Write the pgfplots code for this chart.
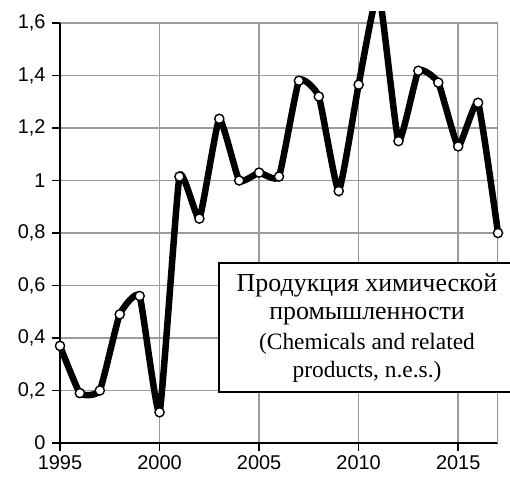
\documentclass[border=0pt]{standalone}
\usepackage{pgfplots}
\pgfplotsset{compat=1.18}
\usepackage{fontspec}
\setmainfont{Liberation Sans}
\newfontfamily\seriffont{Liberation Serif}
\definecolor{gridgray}{RGB}{155,155,155}
\pgfplotstableread{
year val
1995 0.37
1996 0.19
1997 0.20
1998 0.49
1999 0.56
2000 0.117
2001 1.015
2002 0.855
2003 1.235
2004 1.0
2005 1.03
2006 1.015
2007 1.38
2008 1.32
2009 0.96
2010 1.365
2011 1.72
2012 1.15
2013 1.418
2014 1.373
2015 1.13
2016 1.296
2017 0.80
}\chemdata
\begin{document}
\begin{tikzpicture}
\begin{axis}[
  at={(0,0)}, anchor=south west,
  scale only axis, width=438bp, height=420bp,
  xmin=1995, xmax=2017, ymin=0, ymax=1.6,
  xtick={1995,2000,2005,2010,2015},
  ytick={0,0.2,0.4,0.6,0.8,1,1.2,1.4,1.6},
  axis x line*=bottom, axis y line*=left,
  axis line style={black, line width=1.4bp, -},
  grid=major,
  major grid style={gridgray, line width=1.6bp},
  tick style={black, line width=1.4bp},
  tick align=outside, major tick length=8bp,
  ticklabel style={font=\fontsize{20}{20}\selectfont},
  /pgf/number format/assume math mode=true,
  /pgf/number format/use comma,
  /pgf/number format/1000 sep={},
  xticklabel style={yshift=-1bp},
  yticklabel style={xshift=-3bp},
]
\draw[gridgray, line width=1.6bp] (rel axis cs:1,0) -- (rel axis cs:1,1);
\end{axis}
\begin{axis}[
  at={(-19.909bp,-26.25bp)}, anchor=south west,
  scale only axis, width=477.82bp, height=458.06bp,
  xmin=1994, xmax=2018, ymin=-0.1, ymax=1.645,
  axis lines=none, ticks=none,
]
\addplot[black, line width=6.5bp, smooth, tension=0.25,
  mark=*, mark size=4.6bp,
  mark options={fill=white, draw=black, line width=1.4bp}]
  table[x=year, y=val] {\chemdata};
\end{axis}
\draw[fill=white, line width=1.4bp] (159bp,51bp) rectangle (470bp,180bp);
\node[anchor=base, font=\seriffont\fontsize{26}{26}\selectfont, inner sep=0pt] at (307bp,151bp) {Продукция химической};
\node[anchor=base, font=\seriffont\fontsize{26}{26}\selectfont, inner sep=0pt] at (307bp,123bp) {промышленности};
\node[anchor=base, font=\seriffont\fontsize{23.5}{23.5}\selectfont, inner sep=0pt] at (307bp,93bp) {(Chemicals and related};
\node[anchor=base, font=\seriffont\fontsize{23.5}{23.5}\selectfont, inner sep=0pt] at (307bp,65bp) {products, n.e.s.)};
\pgfresetboundingbox
\useasboundingbox (-60bp,-34bp) rectangle (450bp,443bp);
\end{tikzpicture}
\end{document}
